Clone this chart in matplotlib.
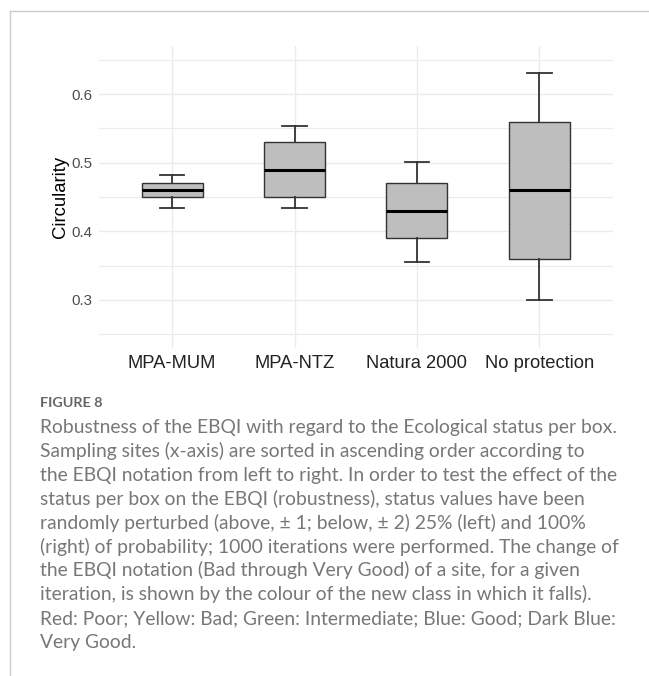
import matplotlib
matplotlib.use("Agg")
import matplotlib.pyplot as plt
from matplotlib.lines import Line2D
import numpy as np

# box summary per site
sites = ["MPA-MUM", "MPA-NTZ", "Natura 2000", "No protection"]
whis_lo = [0.434, 0.434, 0.356, 0.300]
q1 = [0.450, 0.450, 0.390, 0.360]
medians = [0.460, 0.490, 0.430, 0.460]
q3 = [0.470, 0.530, 0.470, 0.560]
whis_hi = [0.482, 0.554, 0.501, 0.631]

y_major = [0.3, 0.4, 0.5, 0.6]
y_minor = [0.25, 0.35, 0.45, 0.55, 0.65]

caption_title = "FIGURE 8"
caption_lines = [
    "Robustness of the EBQI with regard to the Ecological status per box.",
    "Sampling sites (x-axis) are sorted in ascending order according to",
    "the EBQI notation from left to right. In order to test the effect of the",
    "status per box on the EBQI (robustness), status values have been",
    "randomly perturbed (above, \u00b1 1; below, \u00b1 2) 25% (left) and 100%",
    "(right) of probability; 1000 iterations were performed. The change of",
    "the EBQI notation (Bad through Very Good) of a site, for a given",
    "iteration, is shown by the colour of the new class in which it falls).",
    "Red: Poor; Yellow: Bad; Green: Intermediate; Blue: Good; Dark Blue:",
    "Very Good.",
]

W, H = 649, 676
fig = plt.figure(figsize=(W / 100, H / 100), dpi=100)
ax = fig.add_axes([98.7 / W, 1 - 348 / H, (612.7 - 98.7) / W, (348 - 46) / H])

stats = []
for i in range(len(sites)):
    stats.append(dict(whislo=whis_lo[i], q1=q1[i], med=medians[i],
                      q3=q3[i], whishi=whis_hi[i], fliers=[], label=sites[i]))

pos = np.arange(1, len(sites) + 1)
ax.bxp(stats, positions=pos, widths=0.5, capwidths=0.2, patch_artist=True,
       showfliers=False,
       boxprops=dict(facecolor="#bebebe", edgecolor="#333333", linewidth=1.0),
       medianprops=dict(color="black", linewidth=2.2),
       whiskerprops=dict(color="#333333", linewidth=1.3),
       capprops=dict(color="#333333", linewidth=1.3))

ax.set_xlim(0.4, 4.6)
ax.set_ylim(0.23, 0.67)
ax.set_xticks(pos)
ax.set_xticklabels(sites, fontsize=13.2, color="#222222", family="Liberation Sans")
ax.set_yticks(y_major)
ax.set_yticklabels([f"{v:.1f}" for v in y_major], fontsize=10.8,
                   color="#4d4d4d", family="Liberation Sans")
ax.set_yticks(y_minor, minor=True)
ax.tick_params(axis="both", which="both", length=0)
ax.tick_params(axis="x", pad=5)
ax.tick_params(axis="y", pad=4.5)
ax.grid(True, which="major", color="#ebebeb", linewidth=1.0)
ax.grid(True, which="minor", axis="y", color="#ebebeb", linewidth=0.8)
ax.set_axisbelow(True)
for s in ax.spines.values():
    s.set_visible(False)
ax.set_ylabel("Circularity", fontsize=13.3, family="Liberation Sans", labelpad=2)

# page frame lines
fig.add_artist(Line2D([9.5 / W, 1], [1 - 11 / H] * 2, transform=fig.transFigure,
                      color="#cccccc", linewidth=1.0))
fig.add_artist(Line2D([9.5 / W, 9.5 / W], [0, 1 - 11 / H], transform=fig.transFigure,
                      color="#cccccc", linewidth=1.0))

# caption
fig.text(40 / W, 1 - 407.3 / H, caption_title, fontsize=10.4, fontweight="bold",
         color="#666666", family="Lato", va="baseline")
for i, line in enumerate(caption_lines):
    fig.text(40 / W, 1 - (433 + 23.9 * i) / H, line, fontsize=13.9,
             color="#777777", family="Lato", va="baseline")

fig.savefig("out.png", dpi=100)
